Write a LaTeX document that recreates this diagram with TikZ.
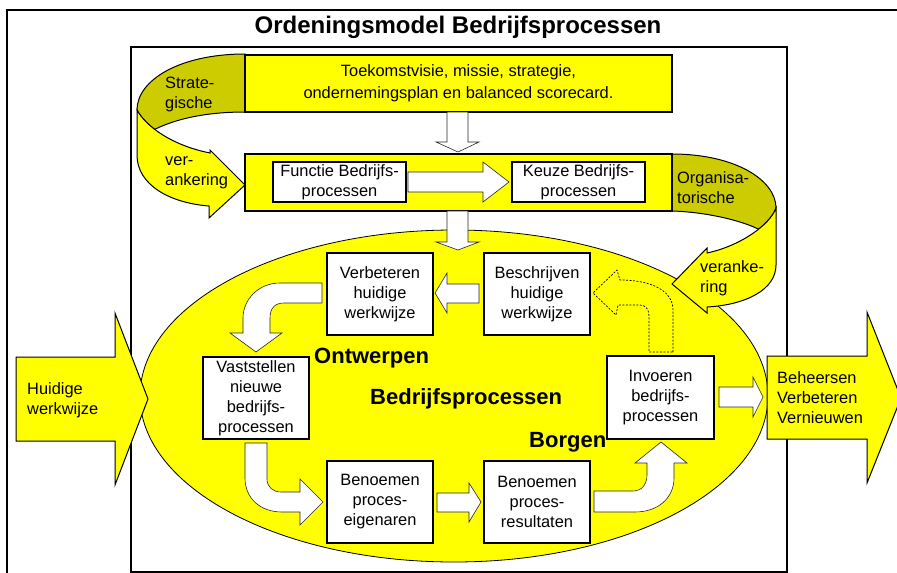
\documentclass[tikz,border=0pt]{standalone}
\usepackage{fontspec}
\setmainfont{Liberation Sans}
\definecolor{geel}{RGB}{255,255,0}
\definecolor{olijf}{RGB}{204,204,0}
\newcommand\normaltekst{\fontsize{16.4}{20}\selectfont}
\newcommand\koptekst{\fontsize{22}{26}\selectfont\bfseries}

\begin{document}
\begin{tikzpicture}[x=1pt,y=-1pt,
  kader/.style={draw,line width=1.5pt},
  gblok/.style={draw,fill=geel,line width=1.5pt,inner sep=0pt},
  wblok/.style={draw,fill=white,line width=1.5pt,align=center,inner sep=0pt,font=\normaltekst},
  lint/.style={draw,line width=1pt,line join=miter},
  wpijl/.style={draw=black!85,fill=white,line width=0.6pt,line join=miter},
  tekst/.style={inner sep=0pt,align=left,anchor=west,font=\normaltekst},
  kop/.style={inner sep=0pt,anchor=base west,font=\koptekst}]
\useasboundingbox (0,0) rectangle (897,573);
\draw[kader] (905,10) -- (7,10) -- (7,580);
\node[inner sep=0pt,anchor=base,font=\fontsize{24}{28}\selectfont\bfseries] (t) at (458,33) {Ordeningsmodel Bedrijfsprocessen};
\draw[kader] (131,47) rectangle (787,572);
\draw[fill=geel,line width=0.8pt] (454,396) ellipse [x radius=314, y radius=166];

\draw[lint,fill=olijf] (245,54) .. controls (180,54) and (137,80) .. (137,110) .. controls (140.2,116) and (146.1,122.8) .. (154.6,129.4) .. controls (182,116) and (215,112) .. (245,112) -- cycle;
\draw[lint,fill=geel] (137,110) -- (137,155) .. controls (137,185) and (170,203) .. (209,206) -- (209,218) -- (245,185) -- (210,150) -- (210,153) .. controls (170,145) and (145,125) .. (137,110) -- cycle;
\draw[lint,fill=olijf] (672,154) .. controls (735,154) and (776,180) .. (776,208) .. controls (773.6,214.8) and (767.4,222.2) .. (758.6,229.2) .. controls (740,220) and (705,212) .. (672,211) -- cycle;
\draw[lint,fill=geel] (776,208) -- (776,265) .. controls (776,290) and (745,305) .. (707,307) -- (707,313) -- (672,284) -- (707,248) -- (707,253) .. controls (740,246) and (770,225) .. (776,208) -- cycle;

\node[gblok,minimum width=427,minimum height=57,align=center,font=\fontsize{16.4}{21.5}\selectfont] (tk) at (458.5,83.5) {Toekomstvisie, missie, strategie,\\ondernemingsplan en balanced scorecard.};
\node[gblok,minimum width=427,minimum height=57] (m) at (458.5,182.5) {};
\node[wblok,minimum width=133,minimum height=40] (fu) at (339.5,182) {Functie Bedrijfs-\\processen};
\node[wblok,minimum width=133,minimum height=40] (ke) at (578.5,182) {Keuze Bedrijfs-\\processen};

\draw[lint,fill=geel] (16,357) -- (115,357) -- (115,313) -- (148,399) -- (115,485) -- (115,441) -- (16,441) -- cycle;
\draw[lint,fill=geel] (767,356) -- (867,356) -- (867,312) -- (901,398) -- (867,483) -- (867,439) -- (767,439) -- cycle;
\node[tekst] (hw) at (27,400) {Huidige\\werkwijze};
\node[tekst] (bvv) at (777,398) {Beheersen\\Verbeteren\\Vernieuwen};
\node[tekst] (s1) at (165,94) {Strate-\\gische};
\node[tekst] (s2) at (165,173) {ver-\\ankering};
\node[tekst] (o1) at (677,188) {Organisa-\\torische};
\node[tekst] (o2) at (700,278) {veranke-\\ring};

\node[wblok,minimum width=106,minimum height=82] (vb) at (380,294) {Verbeteren\\huidige\\werkwijze};
\node[wblok,minimum width=106,minimum height=82] (bs) at (537,294) {Beschrijven\\huidige\\werkwijze};
\node[wblok,minimum width=106,minimum height=82] (vs) at (256,398) {Vaststellen\\nieuwe\\bedrijfs-\\processen};
\node[wblok,minimum width=106,minimum height=82] (be) at (380,502) {Benoemen\\proces-\\eigenaren};
\node[wblok,minimum width=106,minimum height=82] (br) at (537,502) {Benoemen\\proces-\\resultaten};
\node[wblok,minimum width=107,minimum height=83] (iv) at (660.5,397.5) {Invoeren\\bedrijfs-\\processen};
\node[kop] (on) at (314,363) {Ontwerpen};
\node[kop] (bp) at (370,404) {Bedrijfsprocessen};
\node[kop] (bo) at (529,447) {Borgen};

\draw[wpijl] (447,112) -- (447,142) -- (436,142) -- (458,152) -- (479,142) -- (468,142) -- (468,112) -- cycle;
\draw[wpijl] (447,211) -- (447,242) -- (436,242) -- (458,250) -- (479,242) -- (468,242) -- (468,211) -- cycle;
\draw[wpijl] (408,172) -- (483,172) -- (483,162) -- (509,182) -- (483,202) -- (483,192) -- (408,192) -- cycle;
\draw[wpijl] (479,284) -- (447,284) -- (447,273) -- (435,293) -- (447,313) -- (447,303) -- (479,303) -- cycle;
\draw[wpijl] (322,283) -- (280,283) .. controls (258,283) and (243,300) .. (243,318) -- (243,333) -- (230,333) -- (256,352) -- (282,333) -- (270,333) -- (270,318) .. controls (270,308) and (275,303) .. (284,303) -- (322,303) -- cycle;
\draw[wpijl] (245,443) -- (245,478) .. controls (245,498) and (260,512) .. (282,512) -- (300,512) -- (300,525) -- (323,502) -- (300,479) -- (300,492) -- (281,492) .. controls (273,492) and (267,487) .. (267,479) -- (267,443) -- cycle;
\draw[wpijl] (437,493) -- (469,493) -- (469,483) -- (481,502) -- (469,522) -- (469,512) -- (437,512) -- cycle;
\draw[wpijl] (594,491) -- (633,491) .. controls (642,491) and (647,484) .. (647,475) -- (647,463) -- (635,463) -- (661,442) -- (687,463) -- (674,463) -- (674,478) .. controls (674,498) and (658,512) .. (635,512) -- (594,512) -- cycle;
\draw[wpijl] (719,387) -- (753,387) -- (753,377) -- (763,397) -- (753,417) -- (753,407) -- (719,407) -- cycle;
\draw[line width=0.7pt,dash pattern=on 2pt off 1.5pt] (673,352) -- (673,310) .. controls (673,290) and (650,280) .. (620,280) -- (617,270) -- (593,293) -- (616,315) -- (618,305) -- (640,305) .. controls (646,305) and (649,310) .. (649,316) -- (649,352) -- cycle;
\end{tikzpicture}
\end{document}
